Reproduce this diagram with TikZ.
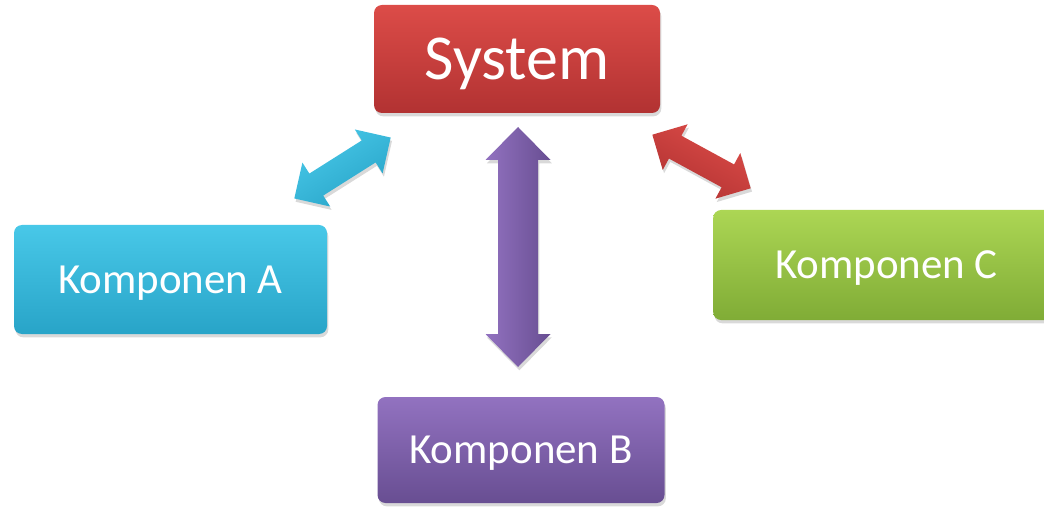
\documentclass[tikz,border=0pt]{standalone}
\usepackage{fontspec}
\setmainfont{Carlito}
\usetikzlibrary{shadows}

% colour sets for the four blocks
\definecolor{redT}{RGB}{220,76,72}
\definecolor{redB}{RGB}{178,50,50}
\definecolor{bluT}{RGB}{72,200,232}
\definecolor{bluB}{RGB}{40,164,200}
\definecolor{grnT}{RGB}{172,214,84}
\definecolor{grnB}{RGB}{128,172,54}
\definecolor{purT}{RGB}{146,114,192}
\definecolor{purB}{RGB}{104,78,146}

\tikzset{
  block/.style={rounded corners=6pt, text=white, align=center,
    drop shadow={shadow xshift=1pt, shadow yshift=-2.5pt, opacity=0.3},
    inner sep=0pt},
  bigtext/.style={font=\fontsize{48}{54}\selectfont, text height=31pt, text depth=0pt},
  smalltext/.style={font=\fontsize{32.2}{37}\selectfont, text height=20.7pt, text depth=0pt},
  blockarrow/.style={drop shadow={shadow xshift=1pt, shadow yshift=-2.5pt, opacity=0.3}},
}

% double block arrow: centre, angle, half length, half shaft, half head, head length, top colour, bottom colour
\newcommand{\dblblockarrow}[8]{%
  \begin{scope}[shift={#1}, rotate=#2]
    \path[blockarrow, top color=#7, bottom color=#8, shading angle=#2]
      (-#3,0) -- (-#3+#6,#5) -- (-#3+#6,#4) -- (#3-#6,#4) -- (#3-#6,#5) -- (#3,0)
      -- (#3-#6,-#5) -- (#3-#6,-#4) -- (-#3+#6,-#4) -- (-#3+#6,-#5) -- cycle;
  \end{scope}}

\begin{document}
\begin{tikzpicture}[x=0.75pt, y=0.75pt]
  \useasboundingbox (0,0) rectangle (1044,507);

  % blocks
  \node[block, bigtext, top color=redT, bottom color=redB, minimum width=214.5pt, minimum height=81pt]
    (sys) at (517,448) {System};
  \node[block, smalltext, top color=bluT, bottom color=bluB, minimum width=234.75pt, minimum height=81.75pt]
    (ka) at (170.5,227.5) {Komponen A};
  \node[block, smalltext, top color=grnT, bottom color=grnB, minimum width=260pt, minimum height=82.5pt]
    (kc) at (886.5,242) {Komponen C};
  \node[block, smalltext, top color=purT, bottom color=purB, minimum width=215.25pt, minimum height=79.5pt]
    (kb) at (521,57) {Komponen B};

  % two-way block arrows between the system and its components
  \dblblockarrow{(342.5,339)}{32.3}{57}{13}{26}{26}{bluT}{bluB}
  \dblblockarrow{(701.5,345.5)}{-28.6}{56}{13}{26}{26}{redT}{redB}
  \dblblockarrow{(518,260)}{90}{120}{20}{32.5}{33}{purT}{purB}
\end{tikzpicture}
\end{document}
